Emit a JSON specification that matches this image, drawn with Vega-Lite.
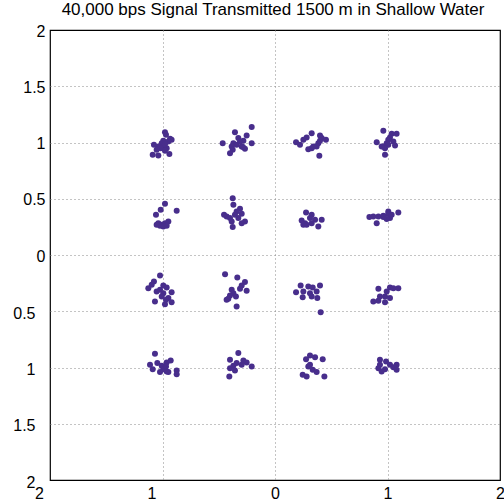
{
  "$schema": "https://vega.github.io/schema/vega-lite/v6.json",
  "width": 450,
  "height": 450,
  "autosize": {"type": "none"},
  "padding": {"left": 50, "top": 30, "right": 4, "bottom": 22},
  "background": "white",
  "title": {
    "text": "40,000 bps Signal Transmitted 1500 m in Shallow Water",
    "font": "Liberation Sans",
    "fontSize": 17,
    "fontWeight": "normal",
    "color": "black",
    "baseline": "alphabetic",
    "offset": 4,
    "dx": -2,
    "dy": 13,
    "anchor": "middle",
    "frame": "group"
  },
  "config": {
    "view": {"stroke": "black", "strokeWidth": 1.2},
    "axis": {
      "labelFont": "Liberation Sans",
      "labelFontSize": 16,
      "labelColor": "black",
      "domain": false,
      "ticks": false,
      "grid": true,
      "gridColor": "#888888",
      "gridDash": [1, 3],
      "gridWidth": 1,
      "title": null
    }
  },
  "data": {
    "values": [
      {"i": -0.978, "q": 1.092}, {"i": -0.969, "q": 1.068}, {"i": -0.933, "q": 1.033}, {"i": -0.919, "q": 1.024},
      {"i": -0.993, "q": 1.015}, {"i": -1.007, "q": 0.994}, {"i": -1.076, "q": 0.980}, {"i": -1.037, "q": 0.965},
      {"i": -0.993, "q": 0.965}, {"i": -1.016, "q": 0.950}, {"i": -0.963, "q": 0.950}, {"i": -1.052, "q": 0.935},
      {"i": -0.978, "q": 0.926}, {"i": -1.087, "q": 0.891}, {"i": -1.037, "q": 0.885}, {"i": -0.939, "q": 0.897},
      {"i": -0.948, "q": 1.009}, {"i": -0.978, "q": 0.985},

      {"i": -0.207, "q": 1.137}, {"i": -0.356, "q": 1.092}, {"i": -0.252, "q": 1.063}, {"i": -0.465, "q": 0.994},
      {"i": -0.326, "q": 1.039}, {"i": -0.281, "q": 1.015}, {"i": -0.370, "q": 0.994}, {"i": -0.341, "q": 0.980},
      {"i": -0.385, "q": 0.965}, {"i": -0.296, "q": 0.965}, {"i": -0.207, "q": 0.994}, {"i": -0.267, "q": 0.944},
      {"i": -0.285, "q": 0.960}, {"i": -0.376, "q": 0.935}, {"i": -0.400, "q": 0.905}, {"i": -0.311, "q": 1.009},

      {"i": 0.326, "q": 1.083}, {"i": 0.281, "q": 1.045}, {"i": 0.252, "q": 1.024}, {"i": 0.400, "q": 1.063},
      {"i": 0.415, "q": 1.039}, {"i": 0.453, "q": 1.024}, {"i": 0.187, "q": 1.003}, {"i": 0.222, "q": 0.980},
      {"i": 0.385, "q": 0.994}, {"i": 0.370, "q": 0.965}, {"i": 0.326, "q": 0.950}, {"i": 0.296, "q": 0.941},
      {"i": 0.400, "q": 1.015}, {"i": 0.394, "q": 0.882}, {"i": 0.341, "q": 0.965},

      {"i": 0.963, "q": 1.104}, {"i": 1.037, "q": 1.077}, {"i": 1.081, "q": 1.077}, {"i": 1.022, "q": 1.045},
      {"i": 1.007, "q": 1.024}, {"i": 0.904, "q": 1.003}, {"i": 0.993, "q": 0.994}, {"i": 1.052, "q": 1.009},
      {"i": 0.963, "q": 0.965}, {"i": 1.007, "q": 0.980}, {"i": 1.067, "q": 0.974}, {"i": 0.978, "q": 0.950},
      {"i": 0.948, "q": 0.965}, {"i": 0.978, "q": 0.891},

      {"i": -0.978, "q": 0.455}, {"i": -1.016, "q": 0.402}, {"i": -1.058, "q": 0.357}, {"i": -0.874, "q": 0.393},
      {"i": -1.037, "q": 0.283}, {"i": -1.007, "q": 0.268}, {"i": -0.978, "q": 0.283}, {"i": -0.948, "q": 0.298},
      {"i": -0.963, "q": 0.260}, {"i": -1.022, "q": 0.260}, {"i": -0.993, "q": 0.254}, {"i": -1.052, "q": 0.268},

      {"i": -0.376, "q": 0.505}, {"i": -0.370, "q": 0.446}, {"i": -0.311, "q": 0.411}, {"i": -0.341, "q": 0.387},
      {"i": -0.296, "q": 0.366}, {"i": -0.453, "q": 0.357}, {"i": -0.430, "q": 0.343}, {"i": -0.400, "q": 0.328},
      {"i": -0.326, "q": 0.328}, {"i": -0.385, "q": 0.298}, {"i": -0.267, "q": 0.298}, {"i": -0.296, "q": 0.283},
      {"i": -0.376, "q": 0.248}, {"i": -0.356, "q": 0.357},

      {"i": 0.276, "q": 0.378}, {"i": 0.326, "q": 0.357}, {"i": 0.311, "q": 0.328}, {"i": 0.237, "q": 0.307},
      {"i": 0.356, "q": 0.313}, {"i": 0.415, "q": 0.313}, {"i": 0.267, "q": 0.283}, {"i": 0.281, "q": 0.268},
      {"i": 0.326, "q": 0.283}, {"i": 0.385, "q": 0.254}, {"i": 0.252, "q": 0.268},

      {"i": 0.839, "q": 0.337}, {"i": 0.874, "q": 0.343}, {"i": 0.919, "q": 0.343}, {"i": 0.963, "q": 0.348},
      {"i": 1.007, "q": 0.387}, {"i": 1.007, "q": 0.366}, {"i": 1.096, "q": 0.378}, {"i": 1.022, "q": 0.328},
      {"i": 0.993, "q": 0.319}, {"i": 0.904, "q": 0.283}, {"i": 0.963, "q": 0.337}, {"i": 1.037, "q": 0.357},

      {"i": -1.022, "q": -0.182}, {"i": -1.076, "q": -0.235}, {"i": -1.096, "q": -0.265}, {"i": -1.126, "q": -0.295},
      {"i": -0.993, "q": -0.271}, {"i": -0.963, "q": -0.289}, {"i": -1.022, "q": -0.309}, {"i": -0.919, "q": -0.330},
      {"i": -0.993, "q": -0.339}, {"i": -1.052, "q": -0.324}, {"i": -1.007, "q": -0.369}, {"i": -0.948, "q": -0.383},
      {"i": -0.919, "q": -0.419}, {"i": -0.978, "q": -0.437}, {"i": -1.067, "q": -0.413}, {"i": -0.969, "q": -0.398},

      {"i": -0.444, "q": -0.170}, {"i": -0.335, "q": -0.200}, {"i": -0.267, "q": -0.241}, {"i": -0.296, "q": -0.271},
      {"i": -0.385, "q": -0.309}, {"i": -0.311, "q": -0.300}, {"i": -0.252, "q": -0.318}, {"i": -0.370, "q": -0.339},
      {"i": -0.400, "q": -0.360}, {"i": -0.415, "q": -0.389}, {"i": -0.347, "q": -0.369}, {"i": -0.341, "q": -0.457},
      {"i": -0.430, "q": -0.398},

      {"i": 0.228, "q": -0.271}, {"i": 0.296, "q": -0.280}, {"i": 0.335, "q": -0.289}, {"i": 0.400, "q": -0.271},
      {"i": 0.187, "q": -0.330}, {"i": 0.252, "q": -0.324}, {"i": 0.311, "q": -0.339}, {"i": 0.370, "q": -0.324},
      {"i": 0.246, "q": -0.375}, {"i": 0.326, "q": -0.369}, {"i": 0.376, "q": -0.383}, {"i": 0.406, "q": -0.508},

      {"i": 0.919, "q": -0.300}, {"i": 1.022, "q": -0.289}, {"i": 1.052, "q": -0.295}, {"i": 1.096, "q": -0.295},
      {"i": 0.993, "q": -0.324}, {"i": 0.933, "q": -0.369}, {"i": 0.978, "q": -0.369}, {"i": 1.022, "q": -0.383},
      {"i": 0.874, "q": -0.413}, {"i": 0.919, "q": -0.407}, {"i": 0.978, "q": -0.419},

      {"i": -1.067, "q": -0.878}, {"i": -1.111, "q": -0.976}, {"i": -1.087, "q": -1.015}, {"i": -1.046, "q": -0.961},
      {"i": -1.007, "q": -0.985}, {"i": -0.963, "q": -0.955}, {"i": -0.927, "q": -0.937}, {"i": -0.993, "q": -1.015},
      {"i": -1.022, "q": -1.041}, {"i": -0.963, "q": -1.035}, {"i": -0.948, "q": -1.041}, {"i": -0.874, "q": -1.026},
      {"i": -0.874, "q": -1.059}, {"i": -0.969, "q": -0.991},

      {"i": -0.326, "q": -0.872}, {"i": -0.400, "q": -0.932}, {"i": -0.281, "q": -0.937}, {"i": -0.341, "q": -0.961},
      {"i": -0.252, "q": -0.955}, {"i": -0.207, "q": -0.991}, {"i": -0.370, "q": -0.985}, {"i": -0.400, "q": -1.006},
      {"i": -0.356, "q": -1.026}, {"i": -0.406, "q": -1.080}, {"i": -0.296, "q": -0.976},

      {"i": 0.311, "q": -0.893}, {"i": 0.276, "q": -0.926}, {"i": 0.356, "q": -0.908}, {"i": 0.424, "q": -0.926},
      {"i": 0.296, "q": -0.991}, {"i": 0.335, "q": -1.020}, {"i": 0.370, "q": -1.041}, {"i": 0.311, "q": -0.976},
      {"i": 0.246, "q": -1.065}, {"i": 0.281, "q": -1.080}, {"i": 0.439, "q": -1.080},

      {"i": 0.933, "q": -0.932}, {"i": 0.987, "q": -0.946}, {"i": 0.933, "q": -0.976}, {"i": 1.022, "q": -0.976},
      {"i": 1.081, "q": -0.976}, {"i": 0.919, "q": -1.006}, {"i": 0.978, "q": -1.015}, {"i": 1.052, "q": -0.997},
      {"i": 1.081, "q": -1.020}, {"i": 0.948, "q": -1.035}
    ]
  },
  "mark": {"type": "circle", "size": 36, "opacity": 1, "color": "#482e8c"},
  "encoding": {
    "x": {
      "field": "i",
      "type": "quantitative",
      "scale": {"domain": [-2, 2], "nice": false, "zero": false},
      "axis": {
        "values": [-2, -1, 0, 1, 2],
        "labelExpr": "format(abs(datum.value), '~g')",
        "labelPadding": 5,
        "labelOffset": {"condition": {"test": "datum.value < 0", "value": -11}, "value": 0},
        "gridOpacity": {"condition": {"test": "abs(datum.value) == 2", "value": 0}, "value": 1},
        "labelFlush": false,
        "labelOverlap": false
      }
    },
    "y": {
      "field": "q",
      "type": "quantitative",
      "scale": {"domain": [-2, 2], "nice": false, "zero": false},
      "axis": {
        "values": [-2, -1.5, -1, -0.5, 0, 0.5, 1, 1.5, 2],
        "labelExpr": "format(abs(datum.value), '~g')",
        "labelPadding": {"condition": {"test": "datum.value < 0", "value": 15}, "value": 5},
        "labelOffset": {"condition": {"test": "datum.value < 0", "value": 2}, "value": 1},
        "gridOpacity": {"condition": {"test": "abs(datum.value) == 2", "value": 0}, "value": 1},
        "labelFlush": false,
        "labelOverlap": false
      }
    }
  }
}
